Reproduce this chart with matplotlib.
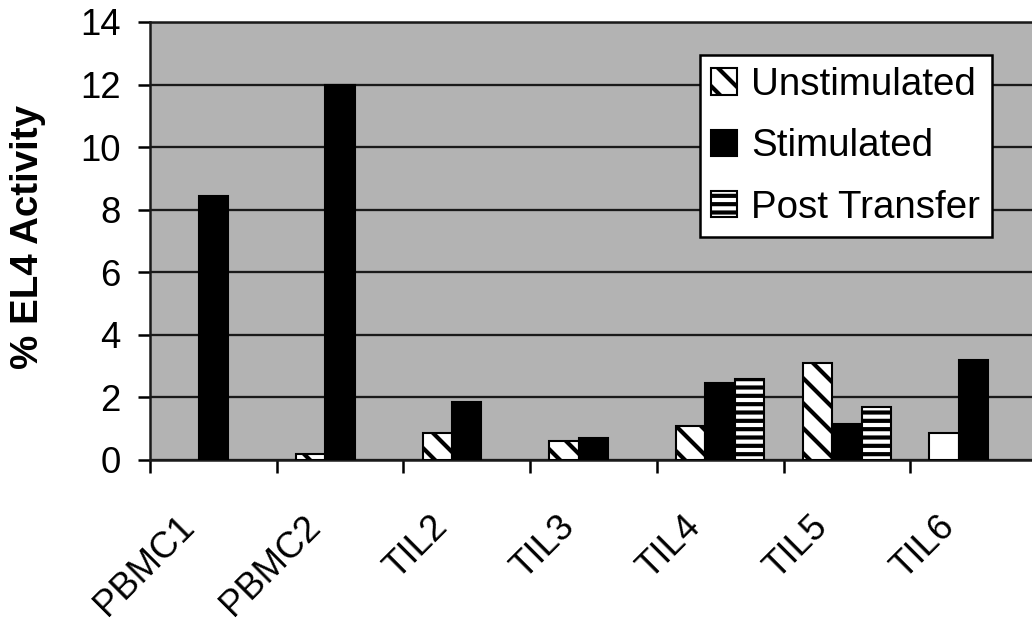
import matplotlib
matplotlib.use("Agg")
import matplotlib.pyplot as plt
import matplotlib.transforms as mtransforms
import numpy as np

plt.rcParams["font.family"] = ["Liberation Sans", "DejaVu Sans"]
plt.rcParams["hatch.linewidth"] = 2.0

categories = ["PBMC1", "PBMC2", "TIL2", "TIL3", "TIL4", "TIL5", "TIL6"]
unstimulated = [np.nan, 0.2, 0.85, 0.6, 1.1, 3.1, 0.85]
stimulated = [8.45, 12.0, 1.85, 0.7, 2.45, 1.15, 3.2]
post_transfer = [np.nan, np.nan, np.nan, np.nan, 2.6, 1.7, np.nan]

fig = plt.figure(figsize=(6.88, 4.14), dpi=150)
ax = fig.add_axes([0.1453, 0.2593, 0.8595, 0.7053])
ax.set_facecolor("#b3b3b3")

x = np.arange(len(categories))
w = 0.232
un_bars = ax.bar(x - w, unstimulated, w, color="white", edgecolor="black",
                 linewidth=1.0, hatch="\\\\", label="Unstimulated", zorder=3)
# TIL6 unstimulated is drawn plain white in the original
un_bars[6].set_hatch("")
ax.bar(x, stimulated, w, color="black", edgecolor="black",
       linewidth=1.0, label="Stimulated", zorder=3)
ax.bar(x + w, post_transfer, w, color="white", edgecolor="black",
       linewidth=1.0, hatch="---", label="Post Transfer", zorder=3)

ax.set_xlim(-0.5, 6.5)
ax.set_ylim(0, 14)
ax.set_yticks(np.arange(0, 15, 2))
ax.yaxis.grid(True, color="#1a1a1a", linewidth=1.1, zorder=1)
ax.set_axisbelow(True)

ax.set_xticks(x)
ax.set_xticks(np.arange(-0.5, 7, 1), minor=True)
ax.tick_params(axis="x", which="major", length=0, pad=23.5)
ax.tick_params(axis="x", which="minor", length=6, width=1.2, direction="out")
ax.tick_params(axis="y", length=6, width=1.2, direction="out", labelsize=17.5, pad=8)
ax.set_xticklabels(categories, rotation=45, ha="right", rotation_mode="anchor",
                   fontsize=17.5)
# nudge the slanted labels to the left, as in the original
shift = mtransforms.ScaledTranslation(-37 / 150, 0, fig.dpi_scale_trans)
for lab in ax.get_xticklabels():
    lab.set_transform(lab.get_transform() + shift)

ax.spines["right"].set_visible(False)
for side in ["left", "bottom", "top"]:
    ax.spines[side].set_linewidth(1.2)
    ax.spines[side].set_color("#1a1a1a")

ax.set_ylabel("% EL4 Activity", fontsize=18.5, fontweight="bold")
ax.yaxis.set_label_coords(-0.117, 0.51)

leg = ax.legend(loc="upper left", bbox_to_anchor=(0.678, 0.911),
                bbox_transform=fig.transFigure, fontsize=18.5, frameon=True,
                fancybox=False, edgecolor="black", framealpha=1,
                handlelength=0.68, handleheight=0.68, handletextpad=0.35,
                labelspacing=0.66, borderpad=0.3, borderaxespad=0)
leg.get_frame().set_linewidth(1.2)

fig.savefig("out.png", dpi=150)
